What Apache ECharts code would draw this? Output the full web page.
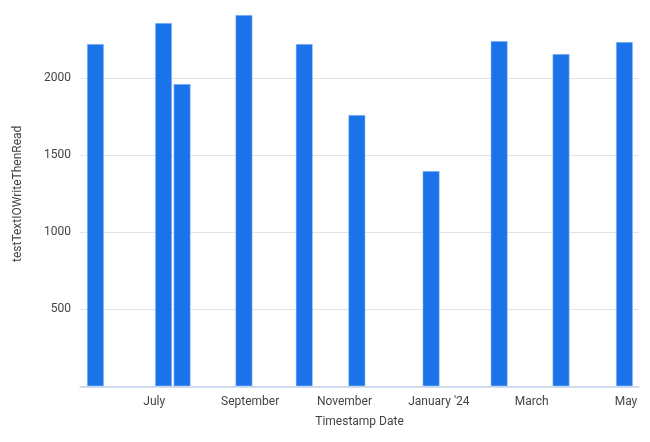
<!DOCTYPE html>
<html>
<head>
<meta charset="utf-8">
<script src="https://cdn.jsdelivr.net/npm/echarts@6/dist/echarts.min.js"></script>
<style>html,body{margin:0;padding:0;background:#fff}#c{width:650px;height:442px}</style>
</head>
<body>
<div id="c"></div>
<script>
const dates = ['2023-05-24','2023-07-07','2023-07-19','2023-08-28','2023-10-06','2023-11-09','2023-12-27','2024-02-09','2024-03-20','2024-04-30'];
const values = [2223, 2359, 1963, 2411, 2223, 1762, 1398, 2242, 2158, 2236];
const tickDates = ['2023-07-01','2023-09-01','2023-11-01','2024-01-01','2024-03-01','2024-05-01'];
const tickLabels = ['July','September','November',"January '24",'March','May'];
const yTicks = [500, 1000, 1500, 2000];

function ts(s){ const p = s.split('-').map(Number); return Date.UTC(p[0], p[1]-1, p[2]); }
const tickTs = tickDates.map(ts);

const chart = echarts.init(document.getElementById('c'));
chart.setOption({
  animation: false,
  grid: { left: 80, right: 11, top: 1.3, bottom: 55.7 },
  xAxis: {
    type: 'value',
    min: ts('2023-05-14'),
    max: ts('2024-05-09') + 10 * 3600 * 1000,
    name: 'Timestamp Date',
    nameLocation: 'middle',
    nameGap: 30,
    nameTextStyle: { fontFamily: 'Roboto', fontSize: 12, color: '#444' },
    axisLine: { show: true, lineStyle: { color: '#c6d4ee', width: 1.5 } },
    axisTick: { show: false },
    splitLine: { show: false },
    axisLabel: {
      customValues: tickTs,
      margin: 10,
      fontFamily: 'Roboto', fontSize: 12, color: '#444',
      formatter: function (v) {
        const i = tickTs.indexOf(v);
        return i >= 0 ? tickLabels[i] : '';
      }
    }
  },
  yAxis: {
    type: 'value',
    min: 0, max: 2500, interval: 500,
    name: 'testTextIOWriteThenRead',
    nameLocation: 'middle',
    nameGap: 56,
    nameTextStyle: { fontFamily: 'Roboto', fontSize: 12, color: '#444', padding: [0, 0, 0, 0] },
    axisLine: { show: false },
    axisTick: { show: false },
    splitLine: { lineStyle: { color: ['#e3e3e3','#e3e3e3','#e3e3e3','#e3e3e3','#e3e3e3','rgba(0,0,0,0)'] } },
    axisLabel: {
      margin: 9,
      fontFamily: 'Roboto', fontSize: 12, color: '#444',
      formatter: function (v) { return yTicks.indexOf(v) >= 0 ? String(v) : ''; }
    }
  },
  series: [{
    type: 'bar',
    barWidth: 17,
    itemStyle: { color: '#1a73e8', borderColor: 'rgba(180,205,245,0.9)', borderWidth: 0.6 },
    data: dates.map((d, i) => [ts(d), values[i]])
  }]
});
</script>
</body>
</html>
